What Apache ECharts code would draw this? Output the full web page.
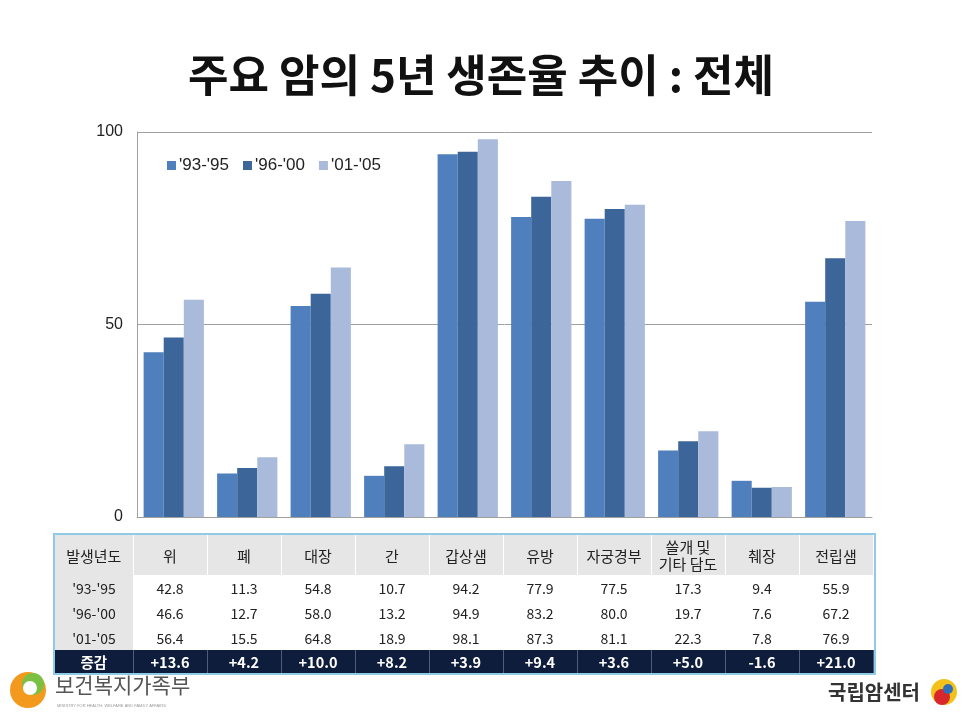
<!DOCTYPE html>
<html>
<head>
<meta charset="utf-8">
<script src="https://cdn.jsdelivr.net/npm/echarts@6/dist/echarts.min.js"></script>
<style>
  html, body { margin: 0; padding: 0; background: #fff; }
  #wrap { position: relative; width: 962px; height: 722px; overflow: hidden; }
  #chart { position: absolute; left: 0; top: 0; width: 962px; height: 722px; }
  #tbl {
    position: absolute; left: 55px; top: 535px; width: 818px;
    border-collapse: collapse; table-layout: fixed;
    font-family: "Noto Sans CJK KR", "Noto Sans", sans-serif; font-size: 14px; color: #222;
    outline: 2px solid #8fcbe6;
  }
  #tbl td { text-align: center; padding: 0; white-space: nowrap; }
  #tbl tr.head td { background: #e6e6e6; height: 40px; line-height: 17px; font-size: 15px; border-right: 1px solid #fff; }
  #tbl tr.val td { height: 25px; background: #fff; }
  #tbl tr.val td.first { background: #e6e6e6; }
  #tbl tr.sum td { background: #0d1d3b; color: #fff; font-weight: bold; font-size: 14.5px; height: 23px; border-right: 1px solid #4a5f80; }
</style>
</head>
<body>
<div id="wrap">
  <div id="chart"></div>
  <table id="tbl"></table>
</div>
<script>
// 카테고리 (암 종류)
const categories = ["위", "폐", "대장", "간", "갑상샘", "유방", "자궁경부", "쓸개 및\n기타 담도", "췌장", "전립샘"];
// 발생년도별 5년 생존율 (%)
const period = ["'93-'95", "'96-'00", "'01-'05"];
const rate9395 = [42.8, 11.3, 54.8, 10.7, 94.2, 77.9, 77.5, 17.3, 9.4, 55.9];
const rate9600 = [46.6, 12.7, 58.0, 13.2, 94.9, 83.2, 80.0, 19.7, 7.6, 67.2];
const rate0105 = [56.4, 15.5, 64.8, 18.9, 98.1, 87.3, 81.1, 22.3, 7.8, 76.9];
// 증감
const change = ["+13.6", "+4.2", "+10.0", "+8.2", "+3.9", "+9.4", "+3.6", "+5.0", "-1.6", "+21.0"];
const yTicks = [0, 50, 100];

const colors = ["#4f7fbd", "#3c6599", "#a9badb"];

// ---- 표 만들기 ----
function buildTable() {
  const tbl = document.getElementById("tbl");
  let html = '<colgroup><col style="width:78px">';
  categories.forEach(() => { html += '<col style="width:74px">'; });
  html += '</colgroup>';
  html += '<tr class="head"><td>발생년도</td>';
  categories.forEach((c) => { html += "<td>" + c.replace("\n", "<br>") + "</td>"; });
  html += "</tr>";
  [rate9395, rate9600, rate0105].forEach((row, i) => {
    html += '<tr class="val"><td class="first">' + period[i] + "</td>";
    row.forEach((v) => { html += "<td>" + v.toFixed(1) + "</td>"; });
    html += "</tr>";
  });
  html += '<tr class="sum"><td>증감</td>';
  change.forEach((v) => { html += "<td>" + v + "</td>"; });
  html += "</tr>";
  tbl.innerHTML = html;
}
buildTable();

const chart = echarts.init(document.getElementById("chart"));
const option = {
  backgroundColor: "#fff",
  animation: false,
  color: colors,
  title: {
    text: "주요 암의 5년 생존율 추이 : 전체",
    left: "center",
    top: 48,
    textStyle: {
      fontFamily: "Noto Sans CJK KR",
      fontWeight: "bold",
      fontSize: 44,
      color: "#111",
    },
  },
  legend: {
    data: period,
    left: 162,
    top: 152,
    itemWidth: 9,
    itemHeight: 9,
    itemGap: 14,
    icon: "rect",
    textStyle: { fontFamily: "Liberation Sans", fontSize: 17, color: "#222", padding: [0, 0, 0, -2] },
  },
  grid: { left: 137, right: 90, top: 132, bottom: 205 },
  xAxis: {
    type: "category",
    data: categories,
    axisLine: { show: true, lineStyle: { color: "#a0a0a0", width: 1 } },
    axisTick: { show: false },
    axisLabel: { show: false },
  },
  yAxis: {
    type: "value",
    min: 0,
    max: 100,
    interval: 50,
    axisLine: { show: true, lineStyle: { color: "#a0a0a0", width: 1 } },
    axisTick: { show: false },
    axisLabel: {
      fontFamily: "Liberation Sans",
      fontSize: 16,
      color: "#222",
      margin: 14,
      formatter: (v) => (yTicks.indexOf(v) >= 0 ? String(v) : ""),
    },
    splitLine: { show: true, lineStyle: { color: "#a0a0a0", width: 1 } },
  },
  series: [
    { name: period[0], type: "bar", data: rate9395, barGap: "0%", barCategoryGap: "18%" },
    { name: period[1], type: "bar", data: rate9600, barGap: "0%", barCategoryGap: "18%" },
    { name: period[2], type: "bar", data: rate0105, barGap: "0%", barCategoryGap: "18%" },
  ],
  graphic: [
    // 보건복지가족부 로고
    { type: "circle", shape: { cx: 28, cy: 690, r: 18 }, style: { fill: "#f39a1e" } },
    { type: "circle", shape: { cx: 33, cy: 684, r: 11 }, style: { fill: "#7cc043" } },
    { type: "circle", shape: { cx: 30, cy: 688, r: 7 }, style: { fill: "#fff" } },
    {
      type: "text", left: 55, top: 675,
      style: { text: "보건복지가족부", font: "21px 'Noto Sans CJK KR'", fill: "#555" },
    },
    {
      type: "text", left: 57, top: 704,
      style: { text: "MINISTRY FOR HEALTH, WELFARE AND FAMILY AFFAIRS", font: "4px 'Liberation Sans'", fill: "#999" },
    },
    // 국립암센터 로고
    {
      type: "text", left: 828, top: 682,
      style: { text: "국립암센터", font: "bold 20px 'Noto Sans CJK KR'", fill: "#333" },
    },
    { type: "circle", shape: { cx: 944, cy: 692, r: 13 }, style: { fill: "#f2c21b" } },
    { type: "circle", shape: { cx: 942, cy: 697, r: 8 }, style: { fill: "#d7272d" } },
    { type: "circle", shape: { cx: 948, cy: 689, r: 5 }, style: { fill: "#2f6fb7" } },
  ],
};
chart.setOption(option);
</script>
</body>
</html>
